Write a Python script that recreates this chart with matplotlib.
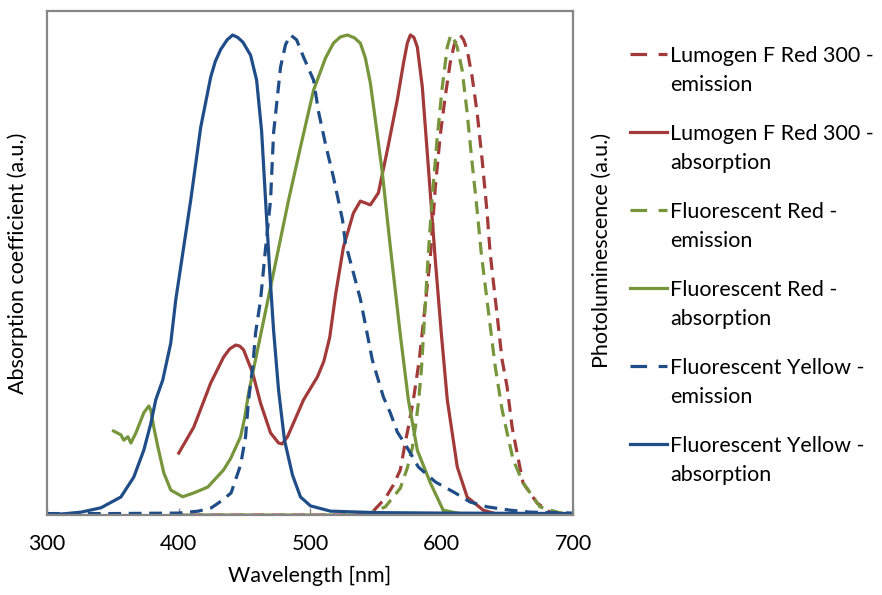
import matplotlib
matplotlib.use('Agg')
import matplotlib.pyplot as plt
from matplotlib.lines import Line2D

plt.rcParams['font.family'] = ['Lato', 'DejaVu Sans']

# ---------------- data (wavelength nm, normalised intensity) ----------------
lumogen_em_wl = [300, 400, 500, 534.5, 540.6, 547.4, 557.3, 563.4, 568.7, 572.5, 574.8, 578.6, 583.1,
                 591.5, 595.3, 599.0, 602.8, 606.6, 609.5, 611.9, 614.2, 616.8, 619.5, 623.3, 627.1,
                 630.9, 634.7, 637.0, 646.1, 649.9, 653.7, 657.5, 662.0, 672.7, 682.5, 700]
lumogen_em = [0.0, 0.0, 0.0, 0.0, 0.004, 0.006, 0.035, 0.0625, 0.094, 0.152, 0.183, 0.24, 0.323,
              0.537, 0.683, 0.79, 0.871, 0.942, 0.978, 0.994, 1.0, 0.99, 0.969, 0.913, 0.838,
              0.74, 0.629, 0.546, 0.323, 0.267, 0.183, 0.129, 0.067, 0.025, 0.006, 0.0]

lumogen_abs_wl = [400.2, 411.6, 424.5, 434.3, 438.9, 443.5, 446.5, 449.5, 456.4, 462.4, 470.0, 476.1,
                  478.8, 482.9, 495.1, 505.7, 510.5, 515.0, 519.5, 525.4, 533.0, 538.3, 545.9,
                  552.0, 558.8, 566.4, 571.0, 574.0, 576.3, 579.0, 581.6, 585.4, 589.2, 593.0,
                  595.3, 599.8, 604.4, 612.0, 619.5, 631.7, 644.6, 700]
lumogen_abs = [0.129, 0.183, 0.275, 0.329, 0.346, 0.354, 0.352, 0.344, 0.296, 0.233, 0.171, 0.15,
               0.148, 0.163, 0.24, 0.288, 0.32, 0.37, 0.46, 0.558, 0.629, 0.654, 0.646,
               0.671, 0.76, 0.865, 0.94, 0.983, 1.0, 0.995, 0.975, 0.892, 0.754, 0.615,
               0.531, 0.38, 0.24, 0.1, 0.0375, 0.01, 0.0, 0.0]

fred_em_wl = [400, 500, 542.0, 557.3, 568.7, 574.0, 577.8, 580.1, 582.4, 584.7, 590.0, 593.0, 596.8,
              600.6, 604.4, 606.6, 608.0, 611.9, 615.7, 619.5, 623.3, 627.1, 630.2, 640.8,
              646.1, 649.9, 654.5, 662.0, 674.9, 687.9, 700]
fred_em = [0.0, 0.0, 0.0, 0.017, 0.056, 0.098, 0.14, 0.183, 0.233, 0.302, 0.546, 0.663, 0.788,
           0.892, 0.975, 0.996, 1.0, 0.975, 0.927, 0.838, 0.733, 0.635, 0.546, 0.31,
           0.219, 0.171, 0.115, 0.067, 0.017, 0.006, 0.0]

fred_abs_wl = [350.6, 356.2, 358.4, 361.5, 363.8, 367.6, 373.6, 377.4, 378.9, 381.2, 384.3, 388.8,
               394.1, 403.2, 411.6, 422.2, 434.3, 439.7, 447.2, 450.3, 453.3, 468.5, 483.7, 492.8,
               502.7, 511.8, 517.8, 523.1, 528.5, 533.8, 538.3, 542.1, 545.9, 549.7, 555.0,
               561.1, 568.7, 574.8, 581.6, 591.5, 601.3, 614.0, 700]
fred_abs = [0.175, 0.167, 0.156, 0.163, 0.15, 0.171, 0.213, 0.227, 0.219, 0.183, 0.142, 0.088,
            0.052, 0.038, 0.046, 0.058, 0.094, 0.118, 0.163, 0.202, 0.254, 0.455, 0.656, 0.767,
            0.885, 0.952, 0.983, 0.996, 1.0, 0.994, 0.983, 0.952, 0.9, 0.823, 0.713,
            0.558, 0.375, 0.24, 0.135, 0.067, 0.01, 0.003, 0.0]

fyel_em_wl = [300, 350, 400, 415, 425, 433, 440, 447.2, 451.0, 453.3, 456.4, 458.6, 462.4, 466.0,
              470.0, 472.3, 477.6, 481.4, 485.2, 489.8, 495.1, 502.7, 506.5, 512.0, 517.8,
              524.7, 526.9, 538.3, 547.4, 551.2, 555.8, 561.1, 566.4, 574.0, 582.4, 595.3,
              610.4, 621.8, 634.7, 652.2, 667.4, 682.5, 700]
fyel_em = [0.003, 0.003, 0.004, 0.008, 0.015, 0.03, 0.046, 0.104, 0.163, 0.24, 0.308, 0.379, 0.448,
           0.55, 0.656, 0.796, 0.933, 0.98, 1.0, 0.99, 0.954, 0.906, 0.84, 0.77, 0.704,
           0.615, 0.567, 0.45, 0.323, 0.288, 0.246, 0.2125, 0.173, 0.14, 0.1, 0.069,
           0.046, 0.027, 0.017, 0.01, 0.006, 0.005, 0.004]

fyel_abs_wl = [300, 315, 326, 341, 356.2, 366, 373.6, 378.9, 382.7, 388, 394.1, 397.9, 409.3, 416.9,
               424.5, 428, 432.1, 437, 441.2, 445, 449, 454.8, 459.4, 463.2, 466.2, 469.3,
               472.3, 476.1, 480.6, 486.7, 492.8, 500.4, 515.6, 550, 600, 700]
fyel_abs = [0.0, 0.003, 0.006, 0.015, 0.0375, 0.079, 0.135, 0.19, 0.24, 0.281, 0.358, 0.448,
            0.656, 0.808, 0.9125, 0.945, 0.97, 0.99, 1.0, 0.995, 0.985, 0.958, 0.906, 0.80,
            0.656, 0.51, 0.385, 0.26, 0.156, 0.083, 0.0375, 0.019, 0.008,
            0.005, 0.004, 0.003]

labels = ["Lumogen F Red 300 -\nemission", "Lumogen F Red 300 -\nabsorption",
          "Fluorescent Red -\nemission", "Fluorescent Red -\nabsorption",
          "Fluorescent Yellow -\nemission", "Fluorescent Yellow -\nabsorption"]
x_ticks = [300, 400, 500, 600, 700]

# ---------------- styling ----------------
RED = '#A23A39'
GREEN = '#77953B'
BLUE = '#1F4D88'
GREY = '#868686'
FS = 15.5
LW = 2.3
DASH = (4, 2.4)

W, H = 882, 595
fig = plt.figure(figsize=(W / 100, H / 100), dpi=100)
ax = fig.add_axes([47 / W, 1 - 515 / H, (573 - 47) / W, (515 - 11) / H])

series = [
    (lumogen_em_wl, lumogen_em, RED, True),
    (lumogen_abs_wl, lumogen_abs, RED, False),
    (fred_em_wl, fred_em, GREEN, True),
    (fred_abs_wl, fred_abs, GREEN, False),
    (fyel_em_wl, fyel_em, BLUE, True),
    (fyel_abs_wl, fyel_abs, BLUE, False),
]
for (xs, ys, c, dashed), lab in zip(series, labels):
    if dashed:
        ax.plot(xs, ys, color=c, lw=LW, dashes=DASH, label=lab, solid_capstyle='butt',
                dash_capstyle='butt', dash_joinstyle='round')
    else:
        ax.plot(xs, ys, color=c, lw=LW, label=lab, solid_joinstyle='round')

ax.set_xlim(300, 700)
ax.set_ylim(0, 504 / 480)
ax.set_xticks(x_ticks)
ax.set_yticks([])
ax.tick_params(axis='x', direction='in', length=5, width=1, color=GREY,
               labelsize=FS, pad=14)
for s in ax.spines.values():
    s.set_color(GREY)
    s.set_linewidth(1.6)

ax.set_xlabel("Wavelength [nm]", fontsize=FS, labelpad=8)
ax.set_ylabel("Absorption coefficient (a.u.)", fontsize=FS, labelpad=14)
fig.text(602 / W, 1 - 250 / H, "Photoluminescence (a.u.)", rotation=90,
         fontsize=FS, ha='center', va='center')

# ---------------- legend (manual, right side) ----------------
base0 = 62
step = 78
for i, ((xs, ys, c, dashed), lab) in enumerate(zip(series, labels)):
    yb = base0 + i * step
    yl = yb - 8
    ln = Line2D([630 / W, 667 / W], [1 - yl / H, 1 - yl / H], transform=fig.transFigure,
                color=c, lw=LW)
    if dashed:
        ln.set_dashes((5.2, 3.6))
    fig.add_artist(ln)
    l1, l2 = lab.split("\n")
    fig.text(670 / W, 1 - yb / H, l1, fontsize=FS, va='baseline', ha='left')
    fig.text(670 / W, 1 - (yb + 29) / H, l2, fontsize=FS, va='baseline', ha='left')

fig.savefig("out.png", dpi=100)
